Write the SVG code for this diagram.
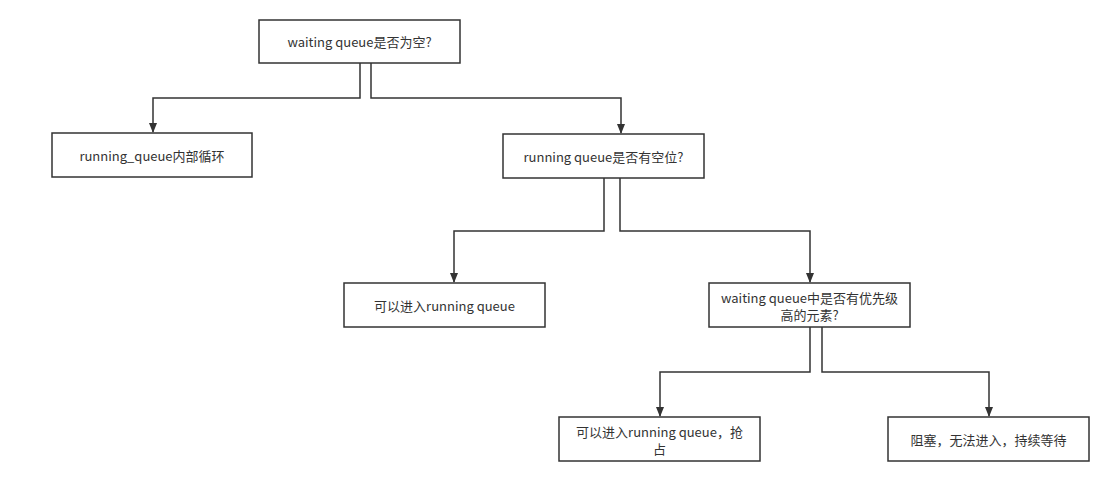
<svg xmlns="http://www.w3.org/2000/svg" width="1112" height="496" viewBox="0 0 1112 496">
<style>
.box{fill:#fff;stroke:#333;stroke-width:1.5}
.t{font-family:"Noto Sans CJK SC","Liberation Sans",sans-serif;font-size:13px;fill:#333;text-anchor:middle;dominant-baseline:central}
.c{fill:none;stroke:#333;stroke-width:1.5}
</style>
<defs>
<marker id="arr" markerWidth="10" markerHeight="12" refX="9" refY="5" orient="auto" markerUnits="userSpaceOnUse" viewBox="0 0 10 10">
<path d="M0,1 L10,5 L0,9 Z" fill="#333"/>
</marker>
</defs>
<rect width="1112" height="496" fill="#fff"/>
<g id="connectors">
<path class="c" d="M360,63 V98 H153 V132" marker-end="url(#arr)"/>
<path class="c" d="M371,63 V98 H621 V133" marker-end="url(#arr)"/>
<path class="c" d="M604,178 V231 H454 V282" marker-end="url(#arr)"/>
<path class="c" d="M620,178 V231 H810 V282" marker-end="url(#arr)"/>
<path class="c" d="M810,327 V372 H660 V416" marker-end="url(#arr)"/>
<path class="c" d="M822,327 V372 H989 V416" marker-end="url(#arr)"/>
</g>
<g id="n1"><rect class="box" x="259" y="20" width="201" height="43"/><text class="t" x="359.5" y="41.5">waiting queue是否为空?</text></g>
<g id="n2"><rect class="box" x="52" y="133" width="200" height="44"/><text class="t" x="152" y="155">running_queue内部循环</text></g>
<g id="n3"><rect class="box" x="503" y="134" width="201" height="44"/><text class="t" x="603.5" y="156">running queue是否有空位?</text></g>
<g id="n4"><rect class="box" x="344" y="283" width="201" height="44"/><text class="t" x="444.5" y="305">可以进入running queue</text></g>
<g id="n5"><rect class="box" x="709" y="283" width="201" height="44"/><text class="t" x="809.5" y="297"><tspan x="809.5" y="297">waiting queue中是否有优先级</tspan><tspan x="809.5" y="314">高的元素?</tspan></text></g>
<g id="n6"><rect class="box" x="559" y="417" width="201" height="44"/><text class="t" x="659.5" y="431"><tspan x="659.5" y="431">可以进入running queue，抢</tspan><tspan x="659.5" y="448">占</tspan></text></g>
<g id="n7"><rect class="box" x="888" y="417" width="201" height="44"/><text class="t" x="988.5" y="439">阻塞，无法进入，持续等待</text></g>
</svg>
